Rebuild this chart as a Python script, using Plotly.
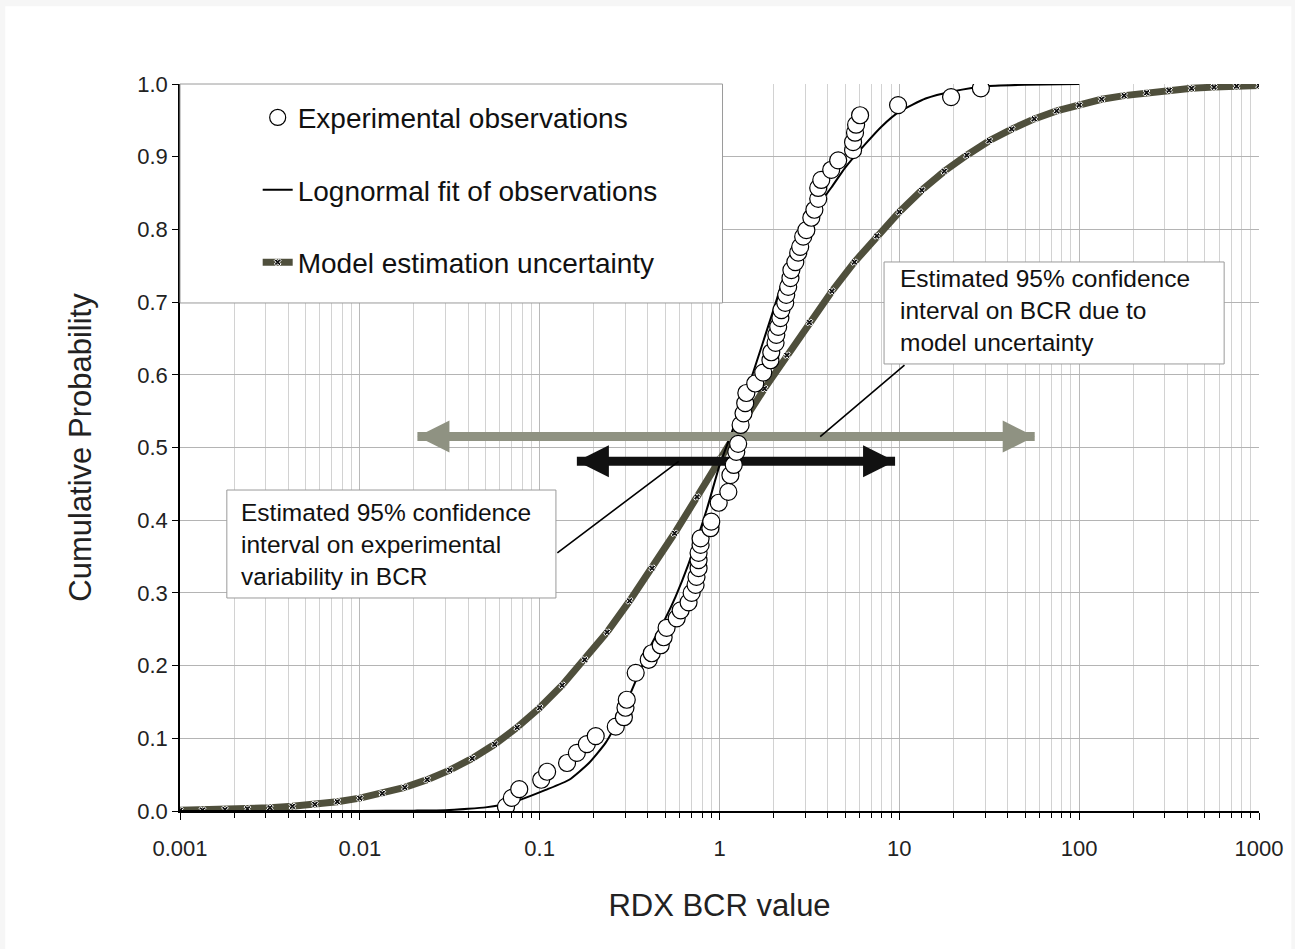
import numpy as np
import plotly.graph_objects as go

# Experimental observations: RDX BCR value and cumulative probability
obs_bcr = [0.065, 0.070, 0.077, 0.102, 0.110, 0.142, 0.161, 0.183, 0.205, 0.265,
           0.294, 0.300, 0.305, 0.342, 0.404, 0.420, 0.471, 0.489, 0.508, 0.578,
           0.608, 0.673, 0.700, 0.736, 0.745, 0.765, 0.765, 0.765, 0.785, 0.785,
           0.890, 0.900, 0.990, 1.12, 1.15, 1.20, 1.24, 1.27, 1.31, 1.36,
           1.39, 1.41, 1.58, 1.75, 1.92, 1.94, 2.05, 2.07, 2.12, 2.18,
           2.21, 2.32, 2.35, 2.41, 2.48, 2.51, 2.64, 2.74, 2.81, 2.92,
           3.04, 3.24, 3.37, 3.54, 3.54, 3.68, 4.18, 4.57, 5.53, 5.53,
           5.67, 5.75, 6.05, 9.84, 19.4, 28.4]
obs_prob = [0.006, 0.018, 0.030, 0.043, 0.054, 0.066, 0.080, 0.092, 0.103, 0.116,
            0.129, 0.142, 0.153, 0.190, 0.208, 0.217, 0.228, 0.239, 0.252, 0.265,
            0.276, 0.287, 0.300, 0.311, 0.322, 0.334, 0.345, 0.355, 0.366, 0.375,
            0.389, 0.398, 0.424, 0.439, 0.462, 0.476, 0.494, 0.505, 0.531, 0.547,
            0.561, 0.575, 0.588, 0.603, 0.620, 0.631, 0.644, 0.655, 0.666, 0.678,
            0.689, 0.699, 0.710, 0.721, 0.733, 0.744, 0.755, 0.768, 0.776, 0.790,
            0.799, 0.816, 0.827, 0.842, 0.857, 0.868, 0.882, 0.895, 0.909, 0.920,
            0.933, 0.944, 0.957, 0.971, 0.982, 0.994]

# Lognormal fit of the observations
fit_bcr = [0.001, 0.01, 0.02, 0.03, 0.04, 0.05, 0.06, 0.077, 0.108, 0.146,
           0.188, 0.233, 0.286, 0.325, 0.369, 0.42, 0.5, 0.57, 0.673, 0.85,
           1.0, 1.25, 1.5, 2.0, 2.5, 3.1, 4.2, 5.0, 6.5, 8.0,
           10, 14, 20, 30, 50, 100]
fit_prob = [0.0, 0.0, 0.0005, 0.001, 0.003, 0.005, 0.008, 0.015, 0.029, 0.043,
            0.066, 0.094, 0.135, 0.166, 0.198, 0.230, 0.265, 0.295, 0.340, 0.415,
            0.475, 0.540, 0.595, 0.690, 0.765, 0.813, 0.858, 0.885, 0.918, 0.942,
            0.962, 0.980, 0.990, 0.997, 0.999, 1.0]

# Model estimation uncertainty, sampled every 1/8 decade from 0.001 to 1000
model_bcr = np.logspace(-3, 3, 49)
model_prob = [0.0009, 0.0013, 0.0020, 0.0030, 0.0044, 0.0064, 0.0091, 0.0128, 0.0177, 0.0242,
              0.0325, 0.0431, 0.0562, 0.0723, 0.0918, 0.115, 0.142, 0.173, 0.208, 0.246,
              0.289, 0.334, 0.382, 0.432, 0.484, 0.533, 0.581, 0.627, 0.672, 0.715,
              0.755, 0.791, 0.824, 0.854, 0.880, 0.902, 0.922, 0.938, 0.952, 0.963,
              0.971, 0.979, 0.984, 0.988, 0.9915, 0.994, 0.9957, 0.997, 0.998]

# Estimated 95% confidence intervals: (low, high) and the level they are drawn at
exp_ci = [0.161, 9.47]
exp_ci_level = 0.481
model_ci = [0.0209, 56.6]
model_ci_level = 0.515

x_tick_vals = [0.001, 0.01, 0.1, 1, 10, 100, 1000]
x_tick_text = ["0.001", "0.01", "0.1", "1", "10", "100", "1000"]
x_minor_vals = [m * 10.0 ** k for k in range(-3, 3) for m in range(2, 10)]

FONT = "Liberation Sans, Arial, sans-serif"
MODEL_COLOR = "#4f4f3c"
GREY_ARROW = "#8f9282"
FRAME = "#9a9a9a"

fig = go.Figure()

fig.add_trace(go.Scatter(
    x=model_bcr, y=model_prob, mode="lines+markers", name="Model estimation uncertainty",
    legendgroup="c", legendrank=3, line=dict(color=MODEL_COLOR, width=7),
    marker=dict(symbol="x", size=6, color="#111111", line=dict(color="white", width=1)),
))

fig.add_trace(go.Scatter(
    x=fit_bcr, y=fit_prob, mode="lines", name="Lognormal fit of observations",
    legendgroup="b", legendrank=2,
    line=dict(color="black", width=2, shape="spline", smoothing=0.5),
))

# Confidence-interval arrows
for ci, level, color in [(model_ci, model_ci_level, GREY_ARROW),
                         (exp_ci, exp_ci_level, "#111111")]:
    fig.add_trace(go.Scatter(
        x=ci, y=[level, level], mode="lines+markers", showlegend=False,
        line=dict(color=color, width=9),
        marker=dict(symbol=["arrow-left", "arrow-right"], size=32, color=color),
        hoverinfo="skip",
    ))

fig.add_trace(go.Scatter(
    x=obs_bcr, y=obs_prob, mode="markers", name="Experimental observations",
    legendgroup="a", legendrank=1,
    marker=dict(symbol="circle", size=17, color="white", line=dict(color="black", width=1.2)),
))

# Label frames (paper coordinates) and the legend frame
frames = [
    (0.0434, 0.3484, 0.2930, 0.4415),   # experimental-variability label
    (0.6525, 0.9677, 0.6149, 0.7552),   # model-uncertainty label
    (0.0, 0.5028, 0.6988, 1.0),         # legend
]
for x0, x1, y0, y1 in frames:
    fig.add_shape(type="rect", xref="paper", yref="paper", x0=x0, x1=x1, y0=y0, y1=y1,
                  fillcolor="white", line=dict(color=FRAME, width=1), layer="above")

# Leader lines from the labels to the arrows
leaders = [
    dict(x1=-0.91, p_from=0.3535, x_to=-0.227, p_to=exp_ci_level),
    dict(x1=1.037, p_from=0.615, x_to=0.56, p_to=model_ci_level),
]
for ld in leaders:
    fig.add_annotation(x=ld["x_to"], y=ld["p_to"], ax=ld["x1"], ay=ld["p_from"],
                       xref="x", yref="y", axref="x", ayref="y", text="",
                       showarrow=True, arrowhead=0, arrowwidth=1.6, arrowcolor="black")

label_style = dict(xref="paper", yref="paper", showarrow=False, align="left",
                   xanchor="left", yanchor="middle",
                   font=dict(family=FONT, size=24.5, color="#111111"))
fig.add_annotation(x=0.0545, y=0.3659,
                   text="Estimated 95% confidence<br>interval on experimental<br>variability in BCR",
                   **label_style)
fig.add_annotation(x=0.6654, y=0.6878,
                   text="Estimated 95% confidence<br>interval on BCR due to<br>model uncertainty",
                   **label_style)

# White panel on the light page background
fig.add_shape(type="rect", xref="paper", yref="paper", x0=-0.162, x1=1.03, y0=-0.19, y1=1.107,
              fillcolor="white", line=dict(width=0), layer="below")

fig.update_layout(
    width=1295, height=949,
    margin=dict(l=180, r=33, t=84, b=138),
    paper_bgcolor="#f6f6f6", plot_bgcolor="white",
    font=dict(family=FONT, color="#222222"),
    showlegend=True,
    legend=dict(x=0.072, y=0.988, xanchor="left", yanchor="top",
                bgcolor="rgba(0,0,0,0)", borderwidth=0,
                traceorder="grouped", tracegroupgap=33,
                font=dict(family=FONT, size=28, color="#111111")),
)

fig.update_xaxes(
    type="log", range=[-3, 3],
    tickmode="array", tickvals=x_tick_vals, ticktext=x_tick_text,
    tickfont=dict(size=22, color="#222222"), ticklabelstandoff=10,
    showline=True, linecolor="black", linewidth=1.5,
    ticks="outside", ticklen=7, tickcolor="black",
    showgrid=True, gridcolor="#b9b9b9", gridwidth=1,
    minor=dict(tickmode="array", tickvals=x_minor_vals, ticks="outside", ticklen=5,
               tickcolor="black", showgrid=True, gridcolor="#d2d2d2", gridwidth=1),
    title=dict(text="RDX BCR value", font=dict(size=31, color="#222222"), standoff=34),
    zeroline=False,
)
fig.update_yaxes(
    range=[0, 1], dtick=0.1, tickformat=".1f",
    tickfont=dict(size=22, color="#222222"),
    showline=True, linecolor="black", linewidth=1.5,
    ticks="outside", ticklen=6, tickcolor="black",
    showgrid=True, gridcolor="#b4b4b4", gridwidth=1,
    title=dict(text="Cumulative Probability", font=dict(size=31, color="#222222"), standoff=36),
    zeroline=False,
)

fig.write_html("out.html")
